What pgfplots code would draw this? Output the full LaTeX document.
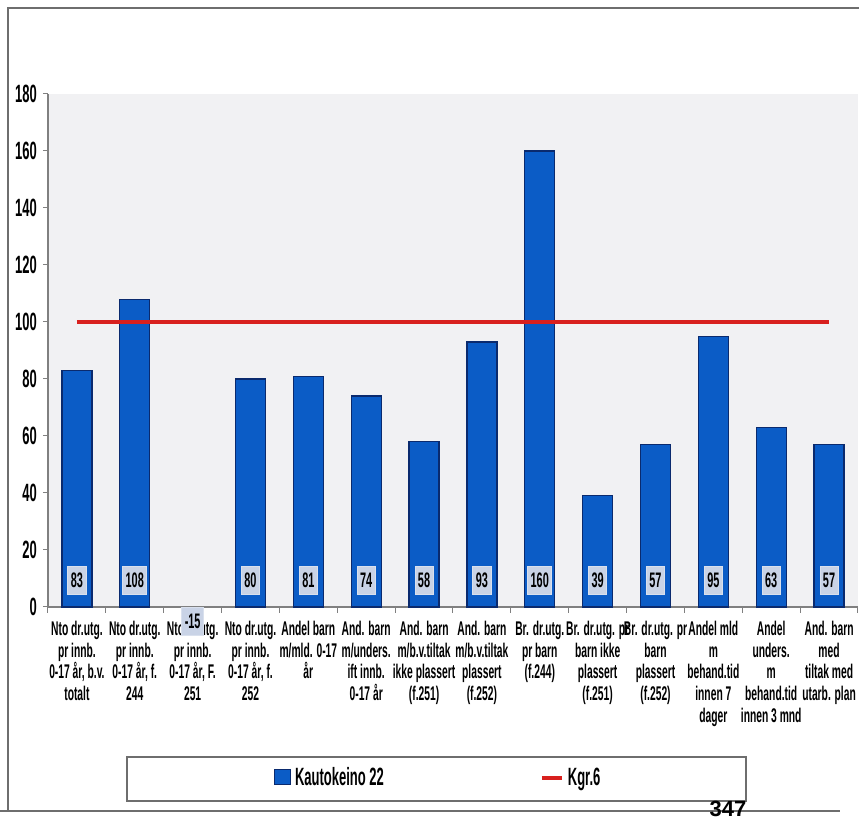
\documentclass[border=0pt]{standalone}
\usepackage{pgfplots}
\pgfplotsset{compat=1.18}
\usepackage{fontspec}
\setmainfont{Liberation Sans}[FakeStretch=0.52]
\newfontfamily\pagefont{Liberation Sans}
\definecolor{barblue}{HTML}{0B5CC6}
\definecolor{baredge}{HTML}{0A2A6E}
\definecolor{kgred}{HTML}{D8201E}
\definecolor{plotbg}{HTML}{F1F1F3}
\definecolor{lblbox}{HTML}{C9D3E6}
\definecolor{framegray}{HTML}{6E6E6E}

\begin{document}
\begin{tikzpicture}[x=1pt,y=1pt]
\path[use as bounding box] (0,0) rectangle (429.5,411);
\fill[white] (0,0) rectangle (429.5,411);
\draw[framegray, line width=0.8pt] (4,5.5) -- (4,407) -- (429.5,407);
\draw[framegray, line width=0.8pt] (0,5.5) -- (420,5.5);
\draw[framegray, line width=0.8pt] (63.5,10.5) rectangle (373,32.5);
\node[font=\pagefont\bfseries\fontsize{11}{11}\selectfont, anchor=base] at (364,2.5) {347};

\begin{axis}[
  at={(24pt,107.5pt)}, anchor=south west,
  scale only axis, width=405pt, height=256.5pt,
  xmin=-0.5, xmax=13.5, ymin=0, ymax=180,
  clip=false,
  axis background/.style={fill=plotbg},
  axis x line*=bottom, axis y line*=left,
  axis line style={gray, line width=0.6pt},
  tick style={gray, line width=0.5pt},
  tick align=outside,
  ytick={0,20,...,180},
  major tick length=2.5pt,
  xtick={0,...,13},
  minor xtick={-0.5,0.5,...,13.5},
  minor tick length=3pt,
  xtick style={draw=none},
  minor x tick style={draw=gray},
  /pgf/number format/assume math mode=true,
  yticklabel style={font=\bfseries\fontsize{12.5}{13}\selectfont, xshift=0.5pt},
  xticklabel style={font=\bfseries\fontsize{9.9}{10.9}\selectfont, align=center, anchor=north, yshift=-1pt},
  xticklabels={
    {Nto dr.utg.\\pr innb.\\0-17 år, b.v.\\totalt},
    {Nto dr.utg.\\pr innb.\\0-17 år, f.\\244},
    {Nto dr.utg.\\pr innb.\\0-17 år, F.\\251},
    {Nto dr.utg.\\pr innb.\\0-17 år, f.\\252},
    {Andel barn\\m/mld. 0-17\\år},
    {And. barn\\m/unders.\\ift innb.\\0-17 år},
    {And. barn\\m/b.v.tiltak\\ikke plassert\\(f.251)},
    {And. barn\\m/b.v.tiltak\\plassert\\(f.252)},
    {Br. dr.utg.\\pr barn\\(f.244)},
    {Br. dr.utg. pr\\barn ikke\\plassert\\(f.251)},
    {Br. dr.utg. pr\\barn\\plassert\\(f.252)},
    {Andel mld\\m\\behand.tid\\innen 7\\dager},
    {Andel\\unders.\\m\\behand.tid\\innen 3 mnd},
    {And. barn\\med\\tiltak med\\utarb. plan}},
  legend columns=2,
  legend style={at={(0.483,-0.333)}, anchor=center, draw=none, fill=none,
    font=\bfseries\fontsize{12.5}{13}\selectfont,
    /tikz/every even column/.append style={column sep=76pt},
    inner sep=1pt},
]
\addplot[ybar, bar width=15pt, fill=barblue, draw=baredge, line width=0.6pt,
  restrict y to domain=0:180,
  legend image code/.code={\draw[fill=barblue,draw=baredge,line width=0.5pt] (0pt,-3.5pt) rectangle (8pt,4pt);}]
  coordinates {(0,83) (1,108) (2,-15) (3,80) (4,81) (5,74) (6,58) (7,93)
               (8,160) (9,39) (10,57) (11,95) (12,63) (13,57)};
\addlegendentry{Kautokeino 22}
\addplot[kgred, line width=2pt, mark=none,
  legend image code/.code={\draw[kgred,line width=2pt] (0pt,0pt) -- (10pt,0pt);}]
  coordinates {(0,100) (1,100) (2,100) (3,100) (4,100) (5,100) (6,100) (7,100)
               (8,100) (9,100) (10,100) (11,100) (12,100) (13,100)};
\addlegendentry{Kgr.6}
\addplot[draw=none, mark=none, forget plot, nodes near coords,
  point meta=explicit symbolic,
  every node near coord/.style={anchor=center, fill=lblbox, draw=lblbox!70!white,
    font=\bfseries\fontsize{10.5}{11}\selectfont, inner xsep=1.5pt, inner ysep=0pt,
    minimum height=14pt, text=black}]
  coordinates {(0,9.5)[83] (1,9.5)[108] (2,-5)[-15] (3,9.5)[80] (4,9.5)[81]
               (5,9.5)[74] (6,9.5)[58] (7,9.5)[93] (8,9.5)[160] (9,9.5)[39]
               (10,9.5)[57] (11,9.5)[95] (12,9.5)[63] (13,9.5)[57]};
\end{axis}
\end{tikzpicture}
\end{document}
